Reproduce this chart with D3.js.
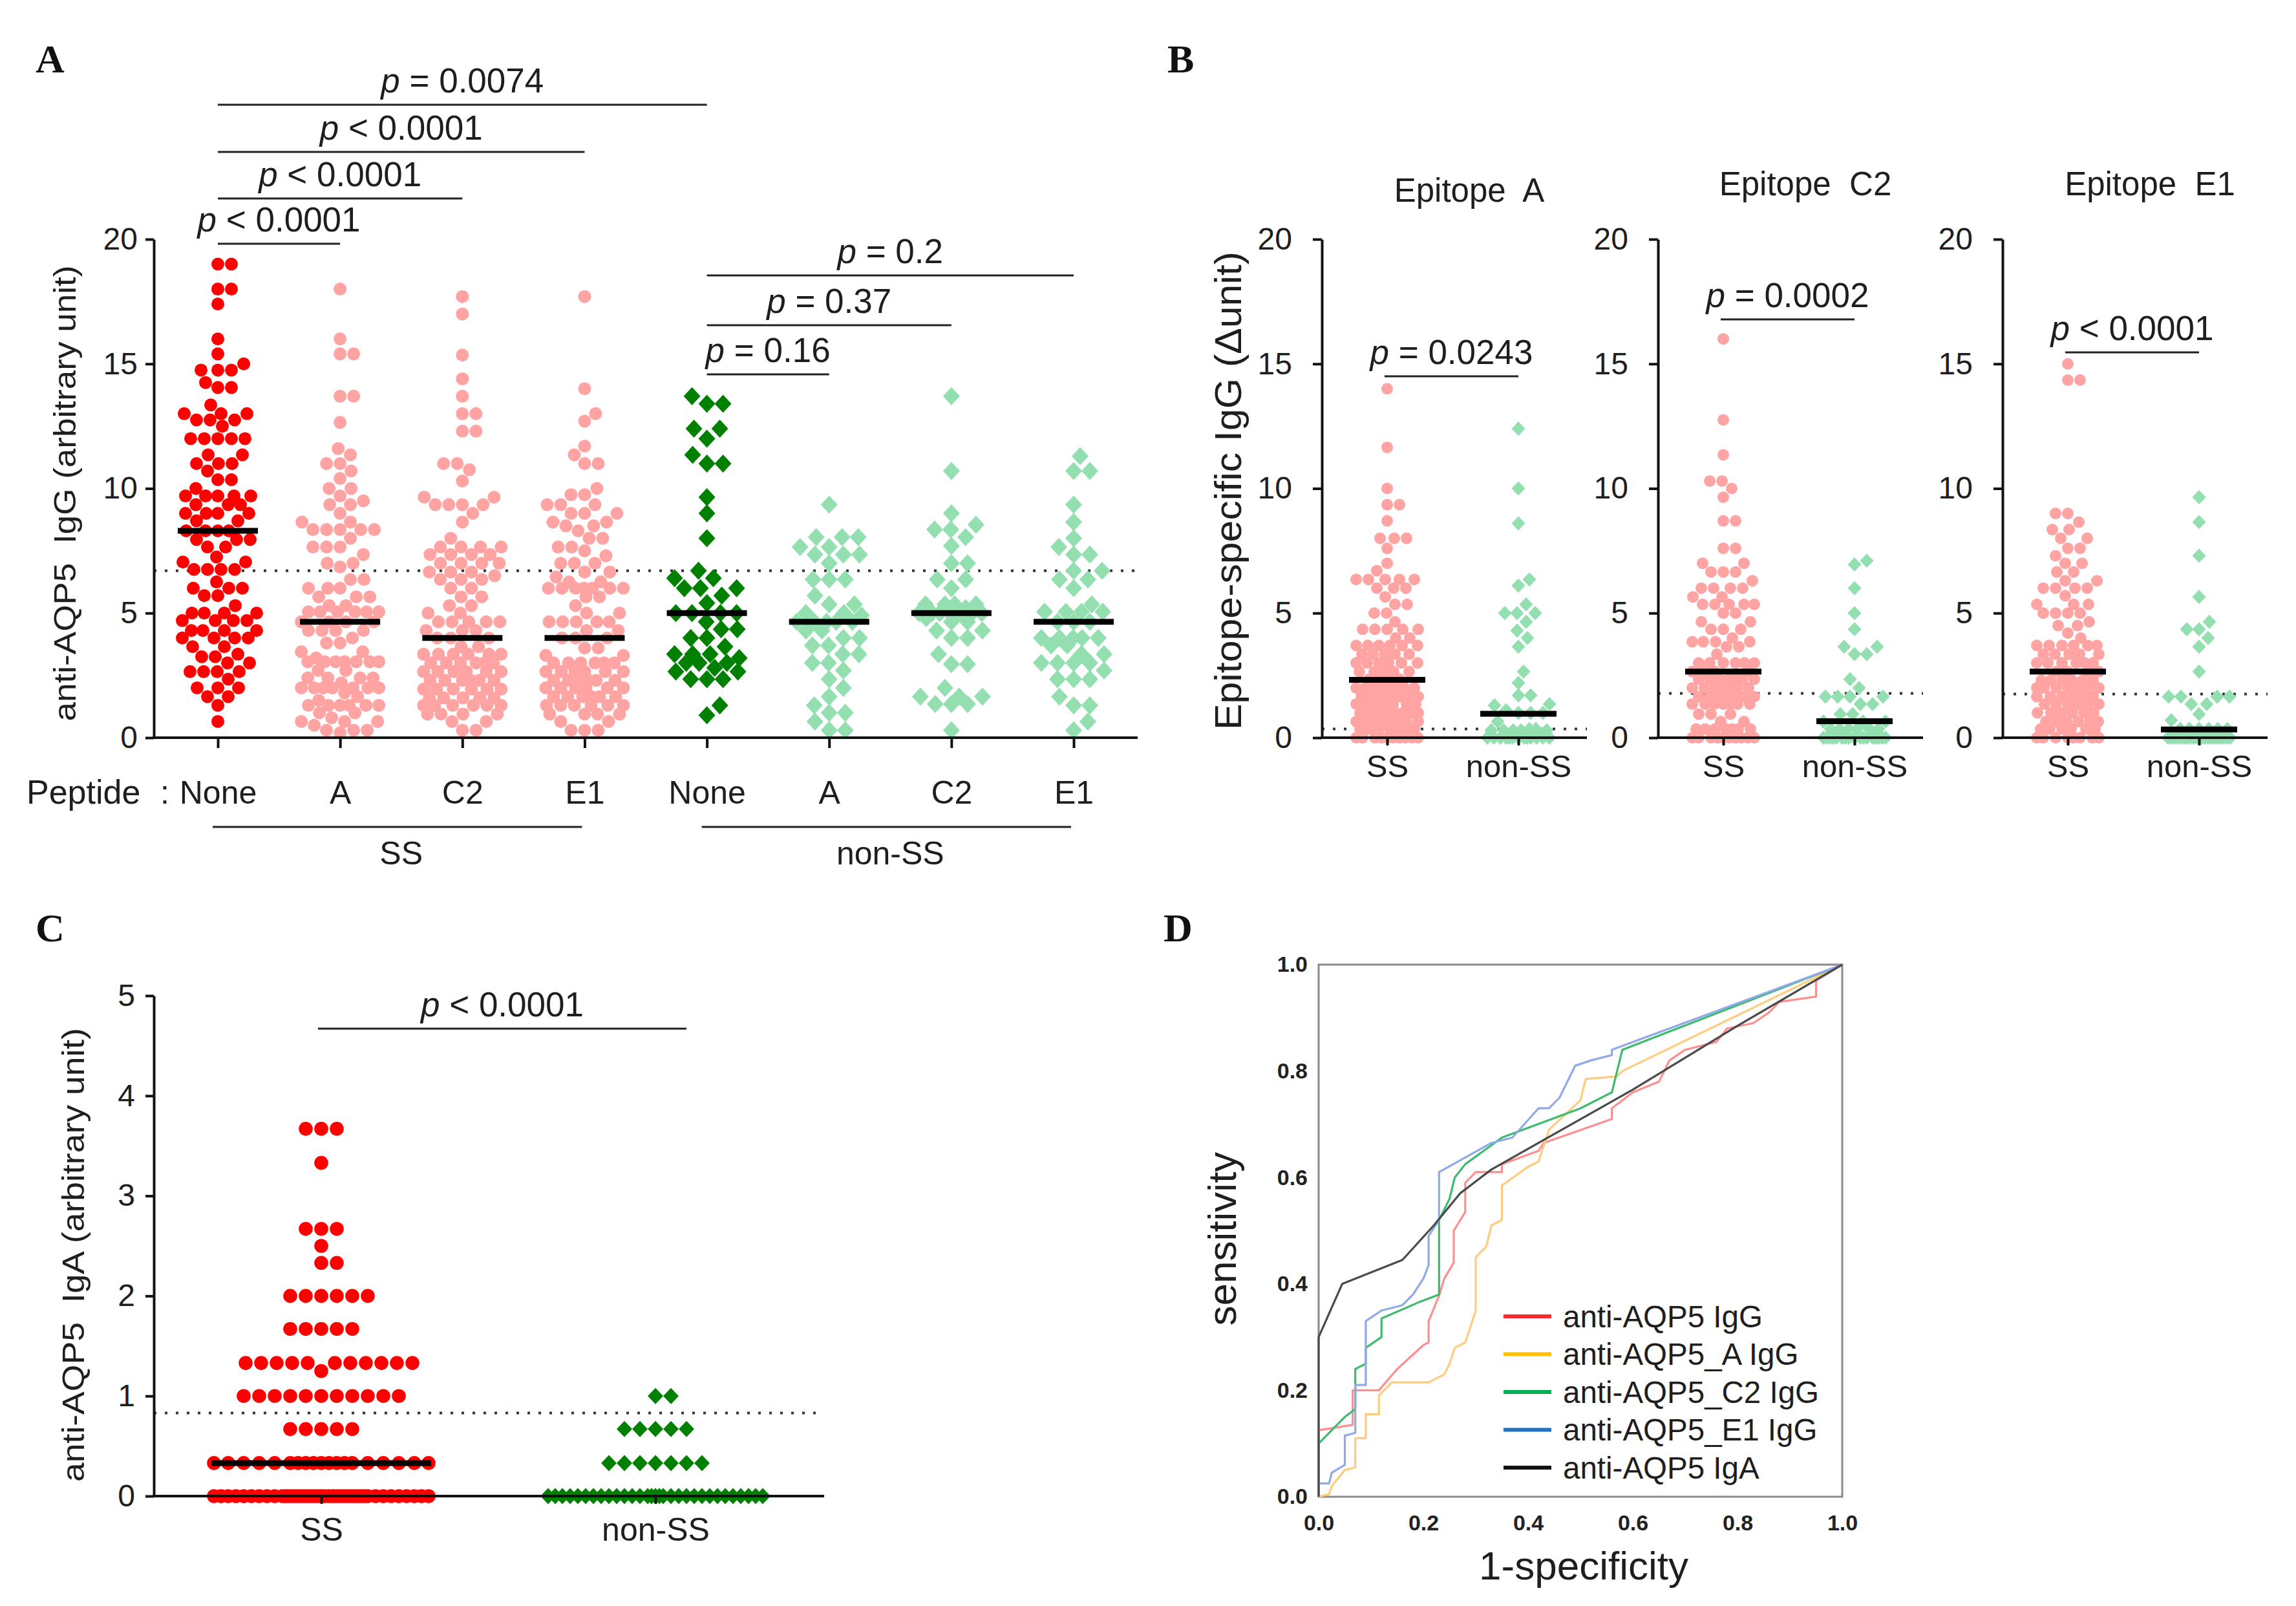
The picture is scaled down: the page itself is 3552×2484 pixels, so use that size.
<!DOCTYPE html>
<html>
<head>
<meta charset="utf-8">
<script src="https://cdn.jsdelivr.net/npm/d3@7"></script>
<style>
  body { margin: 0; background: #fff; }
  svg { display: block; }
  text { white-space: pre; }
</style>
</head>
<body>
<svg id="fig" width="3552" height="2484"></svg>
<script>
// ---------------- data ----------------
const peptides = ["None", "A", "C2", "E1", "None", "A", "C2", "E1"];
const cohorts = ["SS", "non-SS"];

// panel A : anti-AQP5 IgG, with / without peptide absorption
const ssNone = [19, 19, 18, 18, 17.4, 16, 15.4, 15, 14.75, 14.75, 14.75, 14.25, 14.05, 14.05, 13.35, 13, 13, 13,
  12.75, 12.75, 12.75, 12.5, 12, 12, 12, 12, 12, 11.35, 11.35, 11, 11, 11, 10.7, 10.35, 10.35, 10, 9.7, 9.7, 9.7,
  9.7, 9.7, 9.35, 9.35, 9.35, 9, 9, 9, 9, 8.7, 8.7, 8.3, 8.3, 8.3, 8.3, 7.95, 7.95, 7.95, 7.65, 7.65, 7.25, 7.05,
  7.05, 6.75, 6.75, 6.75, 6.75, 6.25, 6, 6, 6, 5.7, 5.7, 5.3, 5, 5, 5, 5, 4.7, 4.7, 4.7, 4.7, 4.3, 4.3, 4.3, 4.3,
  4, 4, 4, 4, 3.65, 3.65, 3.35, 3.25, 3.25, 3, 3, 2.65, 2.65, 2.65, 2.65, 2.35, 2, 2, 2, 1.65, 1.65, 1.3, 0.65];
const ssA = [18, 16, 15.4, 15.4, 13.7, 13.7, 12.65, 11.6, 11.35, 11, 11, 10.7, 10.4, 10, 10, 9.7, 9.5, 9.35, 9.35,
  9, 8.65, 8.65, 8.35, 8.35, 8.35, 8.35, 8.35, 8, 7.65, 7.65, 7.65, 7.35, 7, 7, 6.85, 6.35, 6.35, 6, 6, 6, 5.65,
  5.65, 5.65, 5.3, 5.3, 5.05, 5.05, 5.05, 5.05, 5.05, 5.05, 4.65, 4.65, 4.65, 4.65, 4.3, 4.3, 4.3, 4.3, 4, 3.8,
  3.8, 3.45, 3.45, 3.2, 3.05, 3.05, 3.05, 3.05, 3.05, 3.05, 3.05, 2.7, 2.7, 2.4, 2.4, 2.4, 2.4, 2.2, 2, 2, 2, 2,
  2, 2, 2, 1.8, 1.65, 1.5, 1.3, 1.3, 1.3, 1.3, 1.3, 1.3, 1, 1, 0.8, 0.65, 0.65, 0.65, 0.5, 0.3, 0.3, 0.3, 0.2];
const ssC2 = [17.7, 17, 15.35, 14.4, 13.7, 13, 13, 12.3, 12.3, 11, 11, 10.75, 10.3, 9.65, 9.65, 9.35, 9.35, 9.35,
  9.35, 9, 8.65, 8, 7.65, 7.65, 7.65, 7.65, 7.35, 7.35, 7.35, 7.35, 7, 7, 7, 7, 6.65, 6.65, 6.65, 6.5, 6.35, 6.35,
  6.35, 6, 6, 5.65, 5.65, 5.3, 5.3, 5, 5, 4.65, 4.65, 4.65, 4.65, 4.65, 4.3, 4.3, 4.3, 4, 4, 4, 3.65, 3.65, 3.35,
  3.35, 3.35, 3.35, 3.35, 3.35, 3, 3, 3, 3, 3, 3, 2.65, 2.65, 2.65, 2.65, 2.65, 2.65, 2.3, 2.3, 2.3, 2.3, 2.3,
  2.3, 1.95, 1.95, 1.95, 1.95, 1.95, 1.95, 1.6, 1.6, 1.6, 1.6, 1.6, 1.3, 1.3, 1.3, 1.3, 1.3, 1.3, 0.95, 0.95,
  0.95, 0.95, 0.65, 0.65, 0.3, 0.3];
const ssE1 = [17.7, 14, 13, 12.7, 11.7, 11.35, 11, 11, 10, 9.75, 9.75, 9.35, 9.35, 9.35, 9, 9, 9, 8.65, 8.65, 8.5,
  8.5, 8.3, 8, 8, 7.65, 7.65, 7.5, 7.3, 7, 7, 7, 6.65, 6.65, 6.45, 6.25, 6.25, 6, 6, 6, 6, 6, 6, 6, 5.65, 5.65,
  5.3, 5, 5, 4.65, 4.65, 4.65, 4.65, 4.65, 4.3, 4.3, 4, 4, 4, 3.6, 3.6, 3.3, 3.3, 3, 3, 3, 3, 3, 3, 2.65, 2.65,
  2.65, 2.65, 2.65, 2.65, 2.3, 2.3, 2.3, 2.3, 2.3, 2.3, 2, 2, 2, 2, 2, 2, 1.65, 1.65, 1.65, 1.65, 1.65, 1.65, 1.3,
  1.3, 1.3, 1.3, 1.3, 1.3, 0.95, 0.95, 0.95, 0.95, 0.65, 0.65, 0.3, 0.3, 0.3];
const nonNone = [13.7, 13.4, 13.4, 12.4, 12.4, 12, 11.35, 11, 11, 9.65, 9, 8, 6.7, 6.4, 6.4, 6, 6, 6, 5.7, 5.4, 5,
  5, 5, 5, 4.65, 4.35, 4.35, 4, 4, 3.65, 3.35, 3.35, 3.35, 3.2, 3, 3, 3, 2.8, 2.65, 2.65, 2.35, 2.35, 2.35, 1.3, 0.9];
const nonA = [9.35, 8.05, 8.05, 8.05, 7.65, 7.65, 7.35, 7.35, 7.35, 7, 6.35, 6.35, 6.35, 5.7, 5.35, 5.35, 5, 5,
  4.9, 4.65, 4.65, 4.65, 4.65, 4.65, 4.3, 4.3, 4, 4, 3.7, 3.7, 3.35, 3.35, 3, 3, 2.7, 2.35, 2, 1.65, 1.3, 1, 1,
  0.65, 0.3, 0.3];
const nonC2 = [13.7, 10.7, 9, 8.55, 8.35, 8.35, 8.05, 7.7, 7, 7, 6.35, 6.35, 6, 5.35, 5.35, 5.35, 5.35, 5.2, 5, 5,
  5, 5, 5, 5, 5, 4.8, 4.65, 4.65, 4.3, 4.3, 4, 4, 3.35, 2.95, 2.95, 2, 1.65, 1.65, 1.65, 1.35, 1.35, 1.35, 0.3];
const nonE1 = [11.3, 10.7, 10.7, 9.35, 8.65, 8, 7.65, 7.35, 7.35, 6.7, 6.7, 6.35, 6.35, 6, 5.35, 5.05, 5.05, 5.05,
  5.05, 4.65, 4.65, 4.65, 4, 4, 4, 4, 4, 3.7, 3.7, 3.35, 3.35, 3, 3, 3, 3, 2.7, 2.35, 2.35, 2.35, 1.65, 1.3, 1.3,
  0.65, 0.3];
const medianA = [8.3, 4.65, 4.0, 4.0, 5.0, 4.65, 5.0, 4.65];
const cutoffA = 6.7;
const sigPairsA = [[0, 4], [0, 3], [0, 2], [0, 1], [4, 7], [4, 6], [4, 5]];
const sigTextA = ["= 0.0074", "< 0.0001", "< 0.0001", "< 0.0001", "= 0.2", "= 0.37", "= 0.16"];

// panel B : epitope-specific IgG (delta unit)
const epitopes = ["Epitope  A", "Epitope  C2", "Epitope  E1"];
const epiA_SS = [14, 11.65, 10, 9.35, 9.35, 8.7, 8, 8, 8, 7.6, 7, 6.7, 6.35, 6.35, 6.35, 6.35, 6.35, 6, 6, 6, 5.65,
  5.35, 5.35, 5, 5, 4.65, 4.35, 4.35, 4.35, 4.35, 4.35, 4, 4, 3.7, 3.7, 3.7, 3.7, 3.7, 3.7, 3.35, 3.35, 3.35, 3.35,
  3.35, 3, 3, 3, 3, 3, 3, 2.65, 2.65, 2.65, 2.65, 2.65, 2.35, 2.35, 2.35, 2.35, 2, 2, 2, 2, 2, 2, 2, 1.65, 1.65,
  1.65, 1.65, 1.65, 1.65, 1.65, 1.35, 1.35, 1.35, 1.35, 1.35, 1.35, 1.35, 1, 1, 1, 1, 1, 1, 1, 1, 0.65, 0.65, 0.65,
  0.65, 0.65, 0.65, 0.65, 0.65, 0.35, 0.35, 0.35, 0.35, 0.35, 0.35, 0.35, 0.35, 0, 0, 0, 0, 0, 0, 0, 0, 0, 0];
const epiA_non = [12.4, 10, 8.6, 6.35, 6.1, 5.35, 5, 5, 5, 4.65, 4.3, 4, 3.65, 2.65, 2.2, 1.7, 1.7, 1.35, 1.3, 1.1,
  1, 1, 1, 0.65, 0.35, 0.35, 0.3, 0.3, 0.3, 0.3, 0.3, 0.15, 0, 0, 0, 0, 0, 0, 0, 0, 0, 0, 0, 0, 0];
const epiC2_SS = [16, 12.75, 11.35, 10.3, 10.3, 10, 9.65, 8.7, 8.7, 7.6, 7.6, 7, 7, 6.65, 6.65, 6.65, 6.3, 6, 6, 6,
  6, 5.65, 5.65, 5.35, 5.35, 5.35, 5.35, 5.35, 5, 5, 4.65, 4.65, 4.35, 4.35, 4.35, 4, 3.85, 3.85, 3.85, 3.85, 3.65,
  3.65, 3.35, 3, 3, 3, 3, 3, 3, 2.65, 2.65, 2.65, 2.65, 2.35, 2.35, 2.35, 2.35, 2.35, 2.35, 2.35, 2, 2, 2, 2, 2, 2,
  2, 1.65, 1.65, 1.65, 1.65, 1.65, 1.65, 1.65, 1.35, 1.35, 1.35, 1.35, 1.35, 1.35, 1.35, 0.95, 0.95, 0.95, 0.65,
  0.65, 0.35, 0.35, 0.35, 0.35, 0.35, 0.35, 0.35, 0, 0, 0, 0, 0, 0, 0, 0, 0, 0];
const epiC2_non = [7.1, 6.95, 6, 5, 4.35, 3.65, 3.65, 3.35, 3.35, 2.35, 2, 1.65, 1.65, 1.65, 1.65, 1.35, 1.35, 0.95,
  0.95, 0.65, 0.65, 0.65, 0.35, 0.35, 0.35, 0.35, 0.35, 0.35, 0, 0, 0, 0, 0, 0, 0, 0, 0, 0, 0, 0, 0, 0, 0, 0, 0];
const epiE1_SS = [15, 14.35, 14.35, 9, 9, 8.65, 8.35, 8.35, 8, 8, 7.6, 7.6, 7.3, 7, 7, 6.65, 6.65, 6.3, 6.3, 6, 6,
  6, 6, 5.7, 5.35, 5.35, 5.35, 5, 5, 5, 5, 4.65, 4.5, 4.5, 4.2, 4, 3.7, 3.7, 3.7, 3.7, 3.7, 3.7, 3.35, 3.35, 3.35,
  3.35, 3.35, 3, 3, 3, 3, 3, 3, 2.65, 2.65, 2.65, 2.65, 2.3, 2.3, 2.3, 2.3, 2.3, 2.3, 2, 2, 2, 2, 2, 2, 2, 1.65,
  1.65, 1.65, 1.65, 1.65, 1.65, 1.35, 1.35, 1.35, 1.35, 1.35, 1.35, 1, 1, 1, 1, 1, 1, 0.65, 0.65, 0.65, 0.65, 0.65,
  0.65, 0.35, 0.35, 0.35, 0.35, 0.35, 0.35, 0, 0, 0, 0, 0, 0, 0, 0];
const epiE1_non = [9.65, 8.65, 7.3, 5.65, 4.65, 4.35, 4.35, 4, 3.65, 2.65, 1.65, 1.65, 1.65, 1.65, 1.35, 1.35, 0.95,
  0.7, 0.35, 0.35, 0.35, 0.35, 0.35, 0.35, 0, 0, 0, 0, 0, 0, 0, 0, 0, 0, 0, 0, 0, 0, 0, 0, 0, 0, 0, 0, 0];
const medianB = [[2.32, 0.96], [2.65, 0.66], [2.65, 0.33]];
const cutoffB = [0.35, 1.78, 1.75];
const sigTextB = ["= 0.0243", "= 0.0002", "< 0.0001"];

// panel C : anti-AQP5 IgA
const igaSS = [3.67, 3.67, 3.67, 3.33, 2.67, 2.67, 2.67, 2.5, 2.33, 2.33, 2, 2, 2, 2, 2, 2, 1.67, 1.67, 1.67, 1.67,
  1.67, 1.33, 1.33, 1.33, 1.33, 1.33, 1.33, 1.33, 1.33, 1.33, 1.33, 1.33, 1.25, 1, 1, 1, 1, 1, 1, 1, 1, 1, 1, 1,
  0.67, 0.67, 0.67, 0.67, 0.67, 0.33, 0.33, 0.33, 0.33, 0.33, 0.33, 0.33, 0.33, 0.33, 0.33, 0.33, 0.33, 0.33, 0.33,
  0.33, 0.33, 0.33, 0.33, 0.33, 0, 0, 0, 0, 0, 0, 0, 0, 0, 0, 0, 0, 0, 0, 0, 0, 0, 0, 0, 0, 0, 0, 0, 0, 0, 0, 0, 0,
  0, 0, 0, 0, 0, 0, 0, 0, 0, 0, 0, 0];
const igaNon = [1, 1, 0.67, 0.67, 0.67, 0.67, 0.67, 0.33, 0.33, 0.33, 0.33, 0.33, 0.33, 0.33, 0, 0, 0, 0, 0, 0, 0,
  0, 0, 0, 0, 0, 0, 0, 0, 0, 0, 0, 0, 0, 0, 0, 0, 0, 0, 0, 0, 0, 0, 0, 0];
const medianC = [0.33, 0];
const cutoffC = 0.83;

// panel D : ROC curves [1-specificity, sensitivity]
const rocNames = ["anti-AQP5 IgG", "anti-AQP5_A IgG", "anti-AQP5_C2 IgG", "anti-AQP5_E1 IgG", "anti-AQP5 IgA"];
const rocIgG = [[0, 0], [0, 0.125], [0.065, 0.135], [0.065, 0.2], [0.115, 0.2], [0.15, 0.24], [0.2, 0.285],
  [0.21, 0.29], [0.21, 0.33], [0.23, 0.378], [0.24, 0.41], [0.258, 0.44], [0.258, 0.5], [0.28, 0.535],
  [0.28, 0.59], [0.3, 0.61], [0.35, 0.61], [0.35, 0.625], [0.42, 0.65], [0.43, 0.665], [0.56, 0.71],
  [0.56, 0.73], [0.6, 0.76], [0.65, 0.78], [0.67, 0.82], [0.7, 0.84], [0.76, 0.855], [0.78, 0.88],
  [0.83, 0.89], [0.86, 0.91], [0.88, 0.93], [0.95, 0.94], [0.95, 0.97], [1, 1]];
const rocA = [[0, 0], [0.02, 0.005], [0.025, 0.02], [0.05, 0.05], [0.07, 0.055], [0.07, 0.11], [0.09, 0.11],
  [0.09, 0.155], [0.115, 0.155], [0.115, 0.19], [0.14, 0.215], [0.21, 0.215], [0.24, 0.23], [0.25, 0.25],
  [0.26, 0.28], [0.28, 0.29], [0.3, 0.35], [0.3, 0.45], [0.32, 0.47], [0.33, 0.51], [0.35, 0.52], [0.35, 0.585],
  [0.4, 0.62], [0.42, 0.63], [0.44, 0.69], [0.5, 0.745], [0.51, 0.785], [0.57, 0.79], [0.58, 0.8], [1, 1]];
const rocC2 = [[0, 0], [0, 0.1], [0.05, 0.15], [0.07, 0.165], [0.07, 0.24], [0.09, 0.25], [0.09, 0.28], [0.12, 0.3],
  [0.12, 0.335], [0.19, 0.365], [0.23, 0.38], [0.23, 0.52], [0.25, 0.56], [0.26, 0.6], [0.28, 0.625],
  [0.35, 0.675], [0.5, 0.73], [0.55, 0.755], [0.56, 0.76], [0.58, 0.84], [1, 1]];
const rocE1 = [[0, 0], [0, 0.025], [0.02, 0.025], [0.025, 0.045], [0.05, 0.06], [0.05, 0.115], [0.07, 0.12],
  [0.07, 0.21], [0.09, 0.21], [0.09, 0.33], [0.12, 0.35], [0.16, 0.36], [0.18, 0.38], [0.2, 0.41], [0.21, 0.435],
  [0.21, 0.49], [0.23, 0.52], [0.23, 0.61], [0.33, 0.665], [0.37, 0.675], [0.42, 0.73], [0.44, 0.73],
  [0.46, 0.75], [0.49, 0.81], [0.52, 0.82], [0.56, 0.83], [0.56, 0.84], [1, 1]];
const rocIgA = [[0, 0], [0, 0.3], [0.045, 0.4], [0.16, 0.445], [0.22, 0.51], [0.27, 0.57], [0.33, 0.615],
  [0.6, 0.765], [0.8, 0.885], [1, 1]];

// ---------------- drawing ----------------
const SANS = "'Liberation Sans', Arial, Helvetica, sans-serif";
const SERIF = "'Liberation Serif', 'Times New Roman', serif";
const INK = "#1e1e1e";
const RED = "#ff0000", PINK = "#ffa3a3", DKGREEN = "#008000", MINT = "#93dfb0";
const PFONT = 53;   // p-value labels
const CFONT = 50;   // category labels
const TFONT = 48;   // tick labels

const svg = d3.select("#fig").attr("viewBox", "0 0 3552 2484")
  .attr("font-family", SANS).attr("fill", INK);

// diamond marker path
const diamond = (w, h) => `M0,${-h}L${w},0L0,${h}L${-w},0Z`;

// column scatter: each point goes to the free spot nearest the centre line,
// inside +-maxW; if the column is full it takes the least crowded spot
function swarm(values, y, sep, maxW) {
  const placed = [];
  const offs = [0];
  for (let k = 1; k <= maxW; k++) offs.push(k, -k);
  values.slice().sort((a, b) => a - b).forEach(v => {
    const py = y(v);
    const near = placed.filter(p => Math.abs(p.y - py) < sep);
    let bestX = 0, bestD = -1;
    for (const x of offs) {
      let d = Infinity;
      for (const p of near) {
        const h = Math.hypot(x - p.x, py - p.y);
        if (h < d) d = h;
      }
      if (d >= sep) { bestX = x; bestD = d; break; }
      if (d > bestD + 0.5) { bestD = d; bestX = x; }
    }
    placed.push({ v, x: bestX, y: py });
  });
  return placed;
}

function drawPoints(g, values, y, cx, opt) {
  const pts = swarm(values, y, opt.sep, opt.maxW);
  if (opt.shape === "circle") {
    g.append("g").selectAll("circle").data(pts).join("circle")
      .attr("cx", d => cx + d.x).attr("cy", d => d.y).attr("r", opt.r).attr("fill", opt.color);
  } else {
    g.append("g").selectAll("path").data(pts).join("path")
      .attr("transform", d => `translate(${cx + d.x},${d.y})`)
      .attr("d", diamond(opt.w, opt.h)).attr("fill", opt.color);
  }
}

function yAxis(g, scale, ticks, x, tick, pad, size) {
  const a = g.append("g").attr("transform", `translate(${x},0)`)
    .call(d3.axisLeft(scale).tickValues(ticks).tickFormat(d3.format("d"))
      .tickSize(tick).tickSizeOuter(0).tickPadding(pad));
  a.attr("font-family", null).attr("font-size", null);
  a.select(".domain").attr("stroke", "#111").attr("stroke-width", 4);
  a.selectAll(".tick line").attr("stroke", "#111").attr("stroke-width", 4);
  a.selectAll(".tick text").attr("font-size", size).attr("fill", INK);
  return a;
}

function xAxis(g, scale, x0, x1, y, labels, tick, baseline, size) {
  g.append("line").attr("x1", x0 - 2).attr("x2", x1).attr("y1", y).attr("y2", y)
    .attr("stroke", "#111").attr("stroke-width", 4);
  const a = g.append("g").attr("transform", `translate(0,${y})`)
    .call(d3.axisBottom(scale).tickSize(tick).tickFormat((d, i) => labels[i]));
  a.attr("font-family", null).attr("font-size", null);
  a.select(".domain").remove();
  a.selectAll(".tick line").attr("stroke", "#111").attr("stroke-width", 4);
  a.selectAll(".tick text").attr("font-size", size).attr("fill", INK)
    .attr("y", baseline).attr("dy", null);
}

function pLabel(g, x, y, rest, size) {
  const t = g.append("text").attr("x", x).attr("y", y).attr("text-anchor", "middle").attr("font-size", size);
  t.append("tspan").attr("font-style", "italic").text("p");
  t.append("tspan").text(" " + rest);
}

function sigBar(g, x0, x1, y, rest, size) {
  g.append("line").attr("x1", x0).attr("x2", x1).attr("y1", y).attr("y2", y)
    .attr("stroke", "#222").attr("stroke-width", 3);
  pLabel(g, (x0 + x1) / 2, y - 19, rest, size);
}

function cutoff(g, x0, x1, y) {
  g.append("line").attr("x1", x0).attr("x2", x1).attr("y1", y).attr("y2", y)
    .attr("stroke", "#333").attr("stroke-width", 4).attr("stroke-dasharray", "4 13");
}

function median(g, cx, y, half) {
  g.append("line").attr("x1", cx - half).attr("x2", cx + half).attr("y1", y).attr("y2", y)
    .attr("stroke", "#000").attr("stroke-width", 9);
}

function yTitle(g, x, y, str, size, len) {
  const t = g.append("text").attr("transform", `translate(${x},${y}) rotate(-90)`)
    .attr("text-anchor", "middle").attr("font-size", size).text(str);
  if (len) t.attr("textLength", len).attr("lengthAdjust", "spacingAndGlyphs");
}

function panelLetter(x, y, s) {
  svg.append("text").attr("x", x).attr("y", y).attr("font-family", SERIF)
    .attr("font-weight", "bold").attr("font-size", 62).attr("fill", "#111").text(s);
}

// ===== Panel A =====
{
  const g = svg.append("g");
  const y = d3.scaleLinear().domain([0, 20]).range([1141, 370]);
  const x = d3.scalePoint().domain(d3.range(8)).range([337, 1661]);
  const groups = [ssNone, ssA, ssC2, ssE1, nonNone, nonA, nonC2, nonE1];
  const colors = [RED, PINK, PINK, PINK, DKGREEN, MINT, MINT, MINT];

  cutoff(g, 238, 1760, y(cutoffA));
  groups.forEach((vals, i) => {
    if (i < 4) drawPoints(g, vals, y, x(i), { shape: "circle", r: 10, sep: 20.5, maxW: 60, color: colors[i] });
    else drawPoints(g, vals, y, x(i), { shape: "diamond", w: 13, h: 14, sep: 25, maxW: 50, color: colors[i] });
  });
  medianA.forEach((m, i) => median(g, x(i), y(m), 62));

  yAxis(g, y, [0, 5, 10, 15, 20], 238, 13, 12, TFONT);
  xAxis(g, x, 238, 1760, y(0), peptides, 16, 102, CFONT);
  g.append("text").attr("x", 41).attr("y", 1243).attr("font-size", 52).text("Peptide");
  g.append("text").attr("x", 248).attr("y", 1243).attr("font-size", CFONT).text(":");

  // cohort brackets
  [[0, 3], [4, 7]].forEach(([a, b], k) => {
    g.append("line").attr("x1", x(a) - 8).attr("x2", x(b) - 4).attr("y1", 1279).attr("y2", 1279)
      .attr("stroke", "#222").attr("stroke-width", 3);
    g.append("text").attr("x", (x(a) + x(b)) / 2).attr("y", 1337).attr("text-anchor", "middle")
      .attr("font-size", CFONT).text(cohorts[k]);
  });

  const levels = [162, 235, 307, 377, 426, 503, 579];
  sigPairsA.forEach(([a, b], k) => sigBar(g, x(a), x(b), levels[k], sigTextA[k], PFONT));

  yTitle(g, 117, 763, "anti-AQP5  IgG (arbitrary unit)", 48, 705);
  panelLetter(55, 112, "A");
}

// ===== Panel B =====
{
  const g = svg.append("g");
  const y = d3.scaleLinear().domain([0, 20]).range([1141, 370]);
  const axX = [2045, 2565, 3098];
  const ss = [epiA_SS, epiC2_SS, epiE1_SS];
  const non = [epiA_non, epiC2_non, epiE1_non];
  const sigY = [582, 494, 545];
  const titleY = [312, 302, 302];

  axX.forEach((ax, k) => {
    const x = d3.scalePoint().domain([0, 1]).range([ax + 101, ax + 304]);
    cutoff(g, ax, ax + 410, y(cutoffB[k]));
    drawPoints(g, ss[k], y, x(0), { shape: "circle", r: 9, sep: 18.5, maxW: 48, color: PINK });
    drawPoints(g, non[k], y, x(1), { shape: "diamond", w: 10.5, h: 11, sep: 19, maxW: 48, color: MINT });
    medianB[k].forEach((m, i) => median(g, x(i), y(m), 59));
    yAxis(g, y, [0, 5, 10, 15, 20], ax, 14, 32, TFONT);
    xAxis(g, x, ax, ax + 410, y(0), cohorts, 12, 61, 49);
    sigBar(g, x(0) - 4, x(1), sigY[k], sigTextB[k], PFONT);
    g.append("text").attr("x", ax + 228).attr("y", titleY[k]).attr("text-anchor", "middle")
      .attr("font-size", 51).text(epitopes[k]);
  });

  yTitle(g, 1920, 759, "Epitope-specific IgG (\u0394unit)", 58, 740);
  panelLetter(1806, 112, "B");
}

// ===== Panel C =====
{
  const g = svg.append("g");
  const y = d3.scaleLinear().domain([0, 5]).range([2314, 1540]);
  const x = d3.scalePoint().domain([0, 1]).range([497, 1014]);

  cutoff(g, 238, 1275, y(cutoffC));
  drawPoints(g, igaSS, y, x(0), { shape: "circle", r: 10.8, sep: 23.7, maxW: 166, color: RED });
  drawPoints(g, igaNon, y, x(1), { shape: "diamond", w: 12, h: 12.5, sep: 23.5, maxW: 166, color: DKGREEN });
  medianC.forEach((m, i) => { if (m > 0) median(g, x(i), y(m), 170); });

  yAxis(g, y, [0, 1, 2, 3, 4, 5], 238, 13, 16, TFONT);
  xAxis(g, x, 238, 1275, y(0), cohorts, 12, 69, CFONT);
  sigBar(g, 492, 1062, 1591, "< 0.0001", PFONT);

  yTitle(g, 130, 1941, "anti-AQP5  IgA (arbitrary unit)", 48, 702);
  panelLetter(55, 1456, "C");
}

// ===== Panel D =====
{
  const g = svg.append("g");
  const x = d3.scaleLinear().domain([0, 1]).range([2040, 2850]);
  const y = d3.scaleLinear().domain([0, 1]).range([2315, 1492]);
  const curves = [rocIgG, rocA, rocC2, rocE1, rocIgA];
  const curveColors = ["#ff8f8f", "#ffcb7d", "#3dbb6c", "#90a9ea", "#4a4a4a"];
  const keyColors = ["#ff2a2a", "#ffc000", "#00b050", "#1f74c4", "#111111"];
  const line = d3.line().x(d => x(d[0])).y(d => y(d[1]));

  g.append("rect").attr("x", x(0)).attr("y", y(1)).attr("width", x(1) - x(0)).attr("height", y(0) - y(1))
    .attr("fill", "none").attr("stroke", "#8a8a8a").attr("stroke-width", 3);

  curves.forEach((c, i) => {
    g.append("path").datum(c).attr("d", line).attr("fill", "none")
      .attr("stroke", curveColors[i]).attr("stroke-width", 3.2).attr("stroke-linejoin", "round");
  });

  const ticks = [0, 0.2, 0.4, 0.6, 0.8, 1];
  const ax = g.append("g").attr("transform", `translate(0,${y(0)})`)
    .call(d3.axisBottom(x).tickValues(ticks).tickFormat(d3.format(".1f")).tickSize(0).tickPadding(28));
  const ay = g.append("g").attr("transform", `translate(${x(0)},0)`)
    .call(d3.axisLeft(y).tickValues(ticks).tickFormat(d3.format(".1f")).tickSize(0).tickPadding(17));
  [ax, ay].forEach(a => {
    a.attr("font-family", null).attr("font-size", null);
    a.select(".domain").remove();
    a.selectAll(".tick text").attr("font-size", 34).attr("font-weight", "bold").attr("fill", "#222");
  });

  const key = g.append("g");
  rocNames.forEach((n, i) => {
    const ky = 2036 + i * 58.5;
    key.append("line").attr("x1", 2326).attr("x2", 2400).attr("y1", ky).attr("y2", ky)
      .attr("stroke", keyColors[i]).attr("stroke-width", 6);
    key.append("text").attr("x", 2418).attr("y", ky).attr("dy", "0.35em").attr("font-size", 47.5).text(n);
  });

  yTitle(g, 1912, 1916, "sensitivity", 62);
  g.append("text").attr("x", 2450).attr("y", 2443).attr("text-anchor", "middle").attr("font-size", 62)
    .text("1-specificity");
  panelLetter(1800, 1456, "D");
}
</script>
</body>
</html>
